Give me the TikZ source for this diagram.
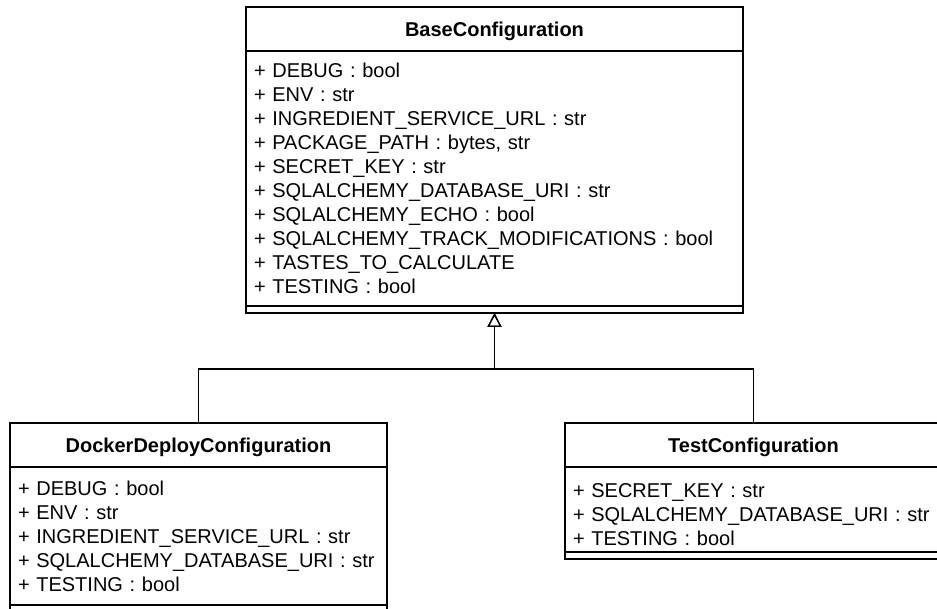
\documentclass[tikz,border=0pt]{standalone}
\usepackage{fontspec}
\setmainfont{Liberation Sans}
\usetikzlibrary{arrows.meta,positioning}
\newcommand\umlsize{\fontsize{20}{24}\selectfont}
\tikzset{
  umlbox/.style={draw, line width=1.3pt, inner sep=0pt, outer sep=0pt, anchor=north},
  umltitle/.style={umlbox, minimum height=44pt, text depth=0pt, font=\umlsize\bfseries},
  umlattrs/.style={umlbox, align=left, inner xsep=8pt, font=\umlsize},
  umlops/.style={umlbox, minimum height=7pt},
  inherit/.style={line width=1.3pt, -{Triangle[open, length=14pt, width=14pt]}}
}
\begin{document}
\begin{tikzpicture}[x=1pt, y=-1pt]
\useasboundingbox (0,0) rectangle (937,609);
\clip (0,0) rectangle (937,609);
% base class
\node[umltitle, minimum width=497pt] (base) at (494.5,7) {BaseConfiguration};
\node[umlattrs, minimum width=497pt, text width=481pt, minimum height=255pt, below=0pt of base] (base attrs)
  {+ DEBUG : bool\\
   + ENV : str\\
   + INGREDIENT\_SERVICE\_URL : str\\
   + PACKAGE\_PATH : bytes, str\\
   + SECRET\_KEY : str\\
   + SQLALCHEMY\_DATABASE\_URI : str\\
   + SQLALCHEMY\_ECHO : bool\\
   + SQLALCHEMY\_TRACK\_MODIFICATIONS : bool\\
   + TASTES\_TO\_CALCULATE\\
   + TESTING : bool};
\node[umlops, minimum width=497pt, below=0pt of base attrs] (base ops) {};
% docker deploy class
\node[umltitle, minimum width=377pt] (docker) at (198.5,423) {DockerDeployConfiguration};
\node[umlattrs, minimum width=377pt, text width=361pt, minimum height=138pt, below=0pt of docker] (docker attrs)
  {+ DEBUG : bool\\
   + ENV : str\\
   + INGREDIENT\_SERVICE\_URL : str\\
   + SQLALCHEMY\_DATABASE\_URI : str\\
   + TESTING : bool};
\node[umlops, minimum width=377pt, minimum height=12pt, below=0pt of docker attrs] (docker ops) {};
% test class
\node[umltitle, minimum width=377pt] (test) at (753.5,423) {TestConfiguration};
\node[umlattrs, minimum width=377pt, text width=361pt, minimum height=85pt, below=0pt of test] (test attrs)
  {\rule{0pt}{25pt}+ SECRET\_KEY : str\\
   + SQLALCHEMY\_DATABASE\_URI : str\\
   + TESTING : bool};
\node[umlops, minimum width=377pt, below=0pt of test attrs] (test ops) {};
% generalisation
\coordinate (join) at (494.5,369);
\draw[inherit] (docker.north) |- (join) -- (base ops.south);
\draw[inherit] (test.north) |- (join) -- (base ops.south);
\end{tikzpicture}
\end{document}
